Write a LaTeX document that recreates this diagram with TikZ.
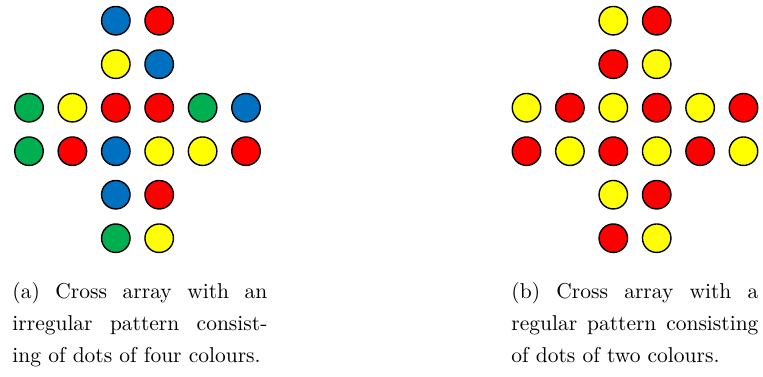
\documentclass[tikz,border=0pt]{standalone}
\definecolor{cblue}{HTML}{0070C0}
\definecolor{cred}{HTML}{FF0000}
\definecolor{cyellow}{HTML}{FFFF00}
\definecolor{cgreen}{HTML}{00B050}
\begin{document}
\begin{tikzpicture}[x=1pt,y=-1pt,
 dot/.style={circle, draw=black, line width=1.4pt, minimum size=28.5pt, inner sep=0pt},
 captext/.style={anchor=base west, inner sep=0pt, scale=2.15, transform shape}]
\useasboundingbox (0,0) rectangle (763,376);
\foreach \r/\c/\col in {1/3/cblue,1/4/cred,2/3/cyellow,2/4/cblue,
  3/1/cgreen,3/2/cyellow,3/3/cred,3/4/cred,3/5/cgreen,3/6/cblue,
  4/1/cgreen,4/2/cred,4/3/cblue,4/4/cyellow,4/5/cyellow,4/6/cred,
  5/3/cblue,5/4/cred,6/3/cgreen,6/4/cyellow} {
  \node[dot, fill=\col] (L\r\c) at ({29+43.4*(\c-1)},{20.7+43.5*(\r-1)}) {};
}
\foreach \r/\c/\col in {1/3/cyellow,1/4/cred,2/3/cred,2/4/cyellow,
  3/1/cyellow,3/2/cred,3/3/cyellow,3/4/cred,3/5/cyellow,3/6/cred,
  4/1/cred,4/2/cyellow,4/3/cred,4/4/cyellow,4/5/cred,4/6/cyellow,
  5/3/cyellow,5/4/cred,6/3/cred,6/4/cyellow} {
  \node[dot, fill=\col] (R\r\c) at ({526.5+43.4*(\c-1)},{20.7+43.5*(\r-1)}) {};
}
\node[captext] (a1) at (12,298) {\makebox[118.6pt][s]{(a) Cross array with an}};
\node[captext] (a2) at (12,330) {\makebox[118.6pt][s]{irregular pattern consist-}};
\node[captext] (a3) at (12,362) {ing of dots of four colours.};
\node[captext] (b1) at (511,298) {\makebox[114.9pt][s]{(b) Cross array with a}};
\node[captext] (b2) at (511,330) {\makebox[114.9pt][s]{regular pattern consisting}};
\node[captext] (b3) at (511,362) {of dots of two colours.};
\end{tikzpicture}
\end{document}
